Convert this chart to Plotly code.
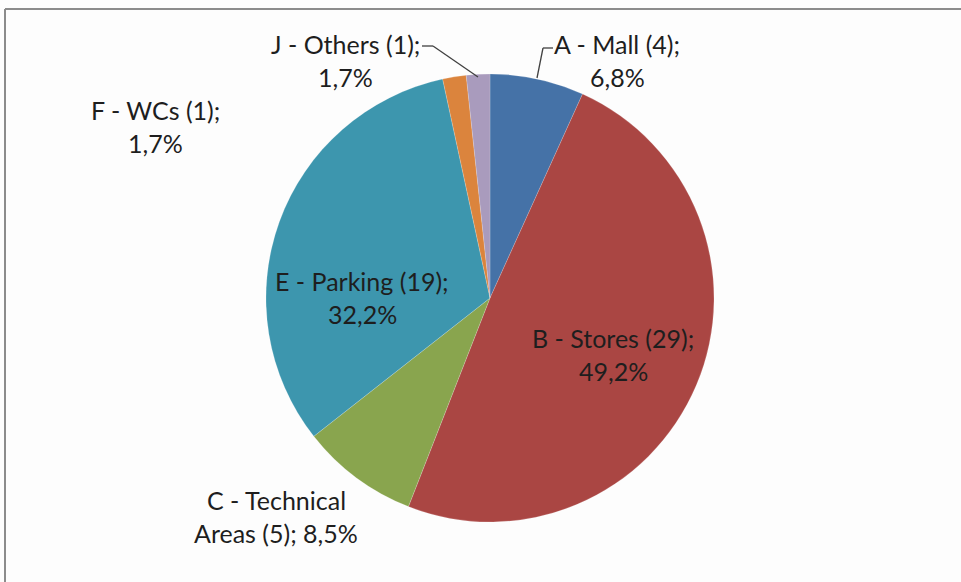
import plotly.graph_objects as go

categories = ["A - Mall", "B - Stores", "C - Technical Areas", "E - Parking", "F - WCs", "J - Others"]
counts = [4, 29, 5, 19, 1, 1]
colors = ["#4572A7", "#AA4643", "#89A54E", "#3D96AE", "#DB843D", "#A99BBD"]

W, H = 961, 582
total = sum(counts)


def pct(v):
    return f"{v / total * 100:.1f}".replace(".", ",") + "%"


# label line texts built from the data
lines = {}
for cat, n in zip(categories, counts):
    lines[cat] = [f"{cat} ({n});", pct(n)]
lines["C - Technical Areas"] = ["C - Technical", f"Areas ({counts[2]}); {pct(counts[2])}"]

# label centres in pixels (first line)
label_pos = {
    "A - Mall": (617, 44),
    "B - Stores": (613, 338),
    "C - Technical Areas": (276, 500),
    "E - Parking": (362, 281),
    "F - WCs": (155, 110),
    "J - Others": (345, 44),
}
LINE_GAP = 33

fig = go.Figure()
fig.add_trace(
    go.Pie(
        labels=categories,
        values=counts,
        sort=False,
        direction="clockwise",
        rotation=0,
        textinfo="none",
        hoverinfo="label+value+percent",
        marker=dict(colors=colors, line=dict(color="rgba(255,255,255,0.35)", width=0.5)),
        domain=dict(x=[266 / W, 714 / W], y=[1 - 522 / H, 1 - 74 / H]),
        showlegend=False,
    )
)

font = dict(family="Lato, 'Open Sans', sans-serif", size=25, color="#1e1e1e")
for cat in categories:
    x, y = label_pos[cat]
    for i, txt in enumerate(lines[cat]):
        fig.add_annotation(
            text=txt,
            xref="paper",
            yref="paper",
            x=x / W,
            y=1 - (y + i * LINE_GAP) / H,
            xanchor="center",
            yanchor="middle",
            showarrow=False,
            font=font,
        )


def px_line(x0, y0, x1, y1, color="#404040", width=1.3):
    fig.add_shape(
        type="line",
        xref="paper",
        yref="paper",
        x0=x0 / W,
        y0=1 - y0 / H,
        x1=x1 / W,
        y1=1 - y1 / H,
        line=dict(color=color, width=width),
    )


# leader lines
px_line(422, 46, 433, 46)
px_line(433, 46, 478, 77)
px_line(553, 48, 543, 48)
px_line(543, 48, 537, 78)

# frame
px_line(5, 9, W, 9, color="#8c8c8c", width=2)
px_line(5, 9, 5, H, color="#8c8c8c", width=2)

fig.update_layout(
    width=W,
    height=H,
    margin=dict(l=0, r=0, t=0, b=0),
    paper_bgcolor="#fdfdfd",
    plot_bgcolor="#fdfdfd",
)

fig.write_html(
    "out.html",
    config={"displayModeBar": False},
    post_script="document.body.style.margin='0';",
)
